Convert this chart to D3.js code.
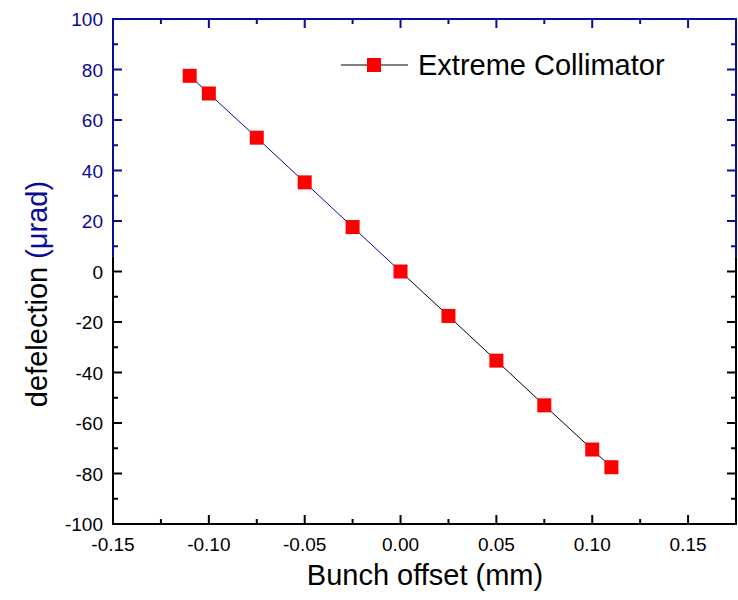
<!DOCTYPE html>
<html>
<head>
<meta charset="utf-8">
<script src="https://cdn.jsdelivr.net/npm/d3@7"></script>
<style>
  body { margin: 0; background: #fff; }
  text { font-family: "Liberation Sans", Arial, sans-serif; }
</style>
</head>
<body>
<div id="chart"></div>
<script>
// data
const offsets = [-0.11, -0.10, -0.075, -0.05, -0.025, 0, 0.025, 0.05, 0.075, 0.10, 0.11];
const deflections = [77.5, 70.5, 53, 35.3, 17.6, 0, -17.6, -35.3, -53, -70.5, -77.5];
const xTicks = [-0.15, -0.10, -0.05, 0.00, 0.05, 0.10, 0.15];
const yTicks = [-100, -80, -60, -40, -20, 0, 20, 40, 60, 80, 100];
const seriesName = 'Extreme Collimator';

const width = 738, height = 600;
const margin = { top: 19, right: 2, bottom: 76, left: 113 };
const blue = '#0a0a96';

const svg = d3.select('#chart').append('svg')
    .attr('width', width)
    .attr('height', height);

const x = d3.scaleLinear().domain([-0.15, 0.175]).range([margin.left, width - margin.right]);
const y = d3.scaleLinear().domain([-100, 100]).range([height - margin.bottom, margin.top]);

// plain hyphen minus like the original
const fmtX = v => d3.format('.2f')(v).replace('\u2212', '-');

// value where the axis colour switches from black to blue
const split = 6;

// data line: blue for left half, black for right
const pts = offsets.map((d, i) => [d, deflections[i]]);
const line = d3.line().x(d => x(d[0])).y(d => y(d[1]));
svg.append('path')
    .datum(pts.filter(d => d[0] <= 0))
    .attr('d', line)
    .attr('fill', 'none')
    .attr('stroke', blue)
    .attr('stroke-width', 1);
svg.append('path')
    .datum(pts.filter(d => d[0] >= 0))
    .attr('d', line)
    .attr('fill', 'none')
    .attr('stroke', '#000')
    .attr('stroke-width', 1);

// markers
const ms = 14;
svg.selectAll('rect.pt')
    .data(pts)
    .enter().append('rect')
    .attr('class', 'pt')
    .attr('x', d => x(d[0]) - ms / 2)
    .attr('y', d => y(d[1]) - ms / 2)
    .attr('width', ms)
    .attr('height', ms)
    .attr('fill', '#ff0000');

// frame
const x0 = x.range()[0], x1 = x.range()[1];
const yTop = y(100), yBot = y(-100), ySplit = y(split);
const frame = svg.append('g').attr('stroke-width', 2).attr('fill', 'none');
frame.append('path').attr('d', `M${x0},${ySplit}V${yTop}H${x1}V${ySplit}`).attr('stroke', blue);
frame.append('path').attr('d', `M${x0},${ySplit}V${yBot}H${x1}V${ySplit}`).attr('stroke', '#000');

// x ticks (bottom + top, inward)
const xMinor = d3.range(-0.15, 0.176, 0.025).map(v => +v.toFixed(3));
xMinor.forEach(v => {
    const major = xTicks.some(t => Math.abs(t - v) < 1e-6);
    const len = major ? 9 : 5;
    svg.append('line').attr('x1', x(v)).attr('x2', x(v))
        .attr('y1', yBot).attr('y2', yBot - len)
        .attr('stroke', '#000').attr('stroke-width', 2);
    svg.append('line').attr('x1', x(v)).attr('x2', x(v))
        .attr('y1', yTop).attr('y2', yTop + len)
        .attr('stroke', blue).attr('stroke-width', 2);
});
svg.selectAll('text.xt')
    .data(xTicks)
    .enter().append('text')
    .attr('class', 'xt')
    .attr('x', d => x(d))
    .attr('y', yBot + 27)
    .attr('text-anchor', 'middle')
    .attr('font-size', 19)
    .text(fmtX);

// y ticks (left + right, inward)
const yMinor = d3.range(-100, 101, 10);
yMinor.forEach(v => {
    const major = v % 20 === 0;
    const len = major ? 9 : 5;
    const c = v > split ? blue : '#000';
    svg.append('line').attr('x1', x0).attr('x2', x0 + len)
        .attr('y1', y(v)).attr('y2', y(v))
        .attr('stroke', c).attr('stroke-width', 2);
    svg.append('line').attr('x1', x1).attr('x2', x1 - len)
        .attr('y1', y(v)).attr('y2', y(v))
        .attr('stroke', c).attr('stroke-width', 2);
});
svg.selectAll('text.yt')
    .data(yTicks)
    .enter().append('text')
    .attr('class', 'yt')
    .attr('x', x0 - 10)
    .attr('y', d => y(d) + 7)
    .attr('text-anchor', 'end')
    .attr('font-size', 19)
    .attr('fill', d => d > split ? blue : '#000')
    .text(d => d);

// axis titles
svg.append('text')
    .attr('x', 425)
    .attr('y', 585)
    .attr('text-anchor', 'middle')
    .attr('font-size', 29)
    .text('Bunch offset (mm)');

const yTitle = svg.append('text')
    .attr('transform', `translate(47, 294) rotate(-90)`)
    .attr('text-anchor', 'middle')
    .attr('font-size', 29);
yTitle.append('tspan').text('defelection ');
yTitle.append('tspan').attr('fill', blue).text('(\u03bcrad)');

// legend
const lgY = 65;
svg.append('line').attr('x1', 341).attr('x2', 408).attr('y1', lgY).attr('y2', lgY)
    .attr('stroke', '#000').attr('stroke-width', 1);
svg.append('rect').attr('x', 374 - 7).attr('y', lgY - 7).attr('width', 14).attr('height', 14)
    .attr('fill', '#ff0000');
svg.append('text')
    .attr('x', 418)
    .attr('y', lgY + 10)
    .attr('font-size', 29)
    .text(seriesName);
</script>
</body>
</html>
